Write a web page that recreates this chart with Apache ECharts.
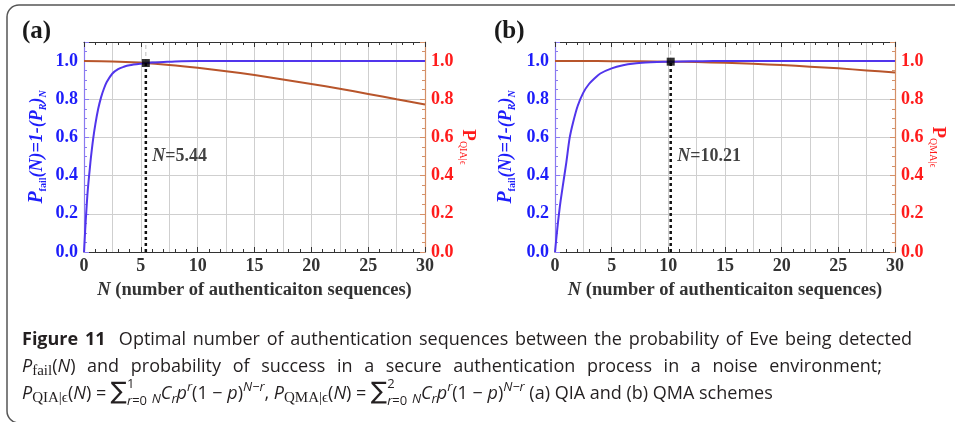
<!DOCTYPE html>
<html>
<head>
<meta charset="utf-8">
<script src="https://cdn.jsdelivr.net/npm/echarts@6/dist/echarts.min.js"></script>
<style>
  html, body { margin: 0; padding: 0; background: #fff; }
  #main { width: 955px; height: 422px; }
</style>
</head>
<body>
<div id="main"></div>
<script>
// values
// (a) QIA
var nFailA = [0, 0.1, 0.2, 0.3, 0.4, 0.5, 0.6, 0.8, 1, 1.25, 1.5, 1.75, 2, 2.5, 3, 3.5, 4, 5, 6, 7, 8, 10, 12, 30];
var pFailA = [0, 0.11, 0.21, 0.3, 0.37, 0.43, 0.49, 0.59, 0.67, 0.75, 0.81, 0.855, 0.89, 0.935, 0.958, 0.97, 0.978, 0.986, 0.992, 0.995, 0.998, 1, 1, 1];
var nQia = [0, 2.5, 5, 7.5, 10, 12.5, 15, 17.5, 20, 22.5, 25, 27.5, 30];
var pQia = [1, 0.998, 0.991, 0.98, 0.965, 0.947, 0.927, 0.904, 0.88, 0.855, 0.828, 0.8, 0.773];
var optA = [5.44, 0.99];
// (b) QMA
var nFailB = [0, 0.2, 0.35, 0.5, 0.85, 1, 1.3, 1.6, 2, 2.5, 3, 3.5, 4, 5, 6, 7, 8, 9, 10.21, 12, 14, 30];
var pFailB = [0, 0.12, 0.2, 0.27, 0.41, 0.47, 0.6, 0.68, 0.765, 0.835, 0.88, 0.91, 0.935, 0.962, 0.978, 0.987, 0.992, 0.995, 0.997, 0.999, 1, 1];
var nQma = [0, 2.5, 5, 7.5, 10, 12.5, 15, 17.5, 20, 22.5, 25, 27.5, 30];
var pQma = [1, 1, 0.9997, 0.999, 0.997, 0.995, 0.991, 0.986, 0.979, 0.971, 0.962, 0.951, 0.94];
var optB = [10.21, 0.997];
var labelY = 0.5;          // height of the "N=..." note
var xRange = [0, 30];
var yRange = [0, 1.1];
var panelNames = ['(a)', '(b)'];
var rightNames = ['QIA|\u03f5', 'QMA|\u03f5'];

var SERIF = '"Liberation Serif", "Times New Roman", serif';
var SANS = '"Open Sans", Lato, sans-serif';
var INK = '#231f20';
var BLUE = '#5135ec', BROWN = '#b8552b';
var LAXIS = '#8a7af0', RAXIS = '#d49068';
var LTXT = '#1d1dfa', RTXT = '#ff1c1c';
var GRID = '#cfcfcf';

function zip(xs, ys) {
    return xs.map(function (x, i) { return [x, ys[i]]; });
}
function fmtY(v) { return v > 1.05 ? '' : v.toFixed(1); }

var grids = [
    {left: 84, top: 42, width: 341, height: 210, outerBoundsMode: 'none'},
    {left: 555, top: 42, width: 340, height: 210, outerBoundsMode: 'none'}
];
var gapL = [36, 38], gapR = [26, 30];

var xAxes = [], yAxes = [], series = [];
[0, 1].forEach(function (g) {
    var tickX = {show: true, inside: true, length: 5, lineStyle: {color: '#333'}};
    var minorX = {show: true, splitNumber: 5, length: 3, lineStyle: {color: '#333'}};
    xAxes.push({
        gridIndex: g, type: 'value', min: xRange[0], max: xRange[1], interval: 5, position: 'bottom',
        axisLine: {onZero: false, lineStyle: {color: '#333', width: 1}},
        axisTick: tickX, minorTick: minorX, splitLine: {show: false},
        axisLabel: {color: '#333', fontFamily: SERIF, fontWeight: 'bold', fontSize: 18, margin: 5},
        name: '{i|N} (number of authenticaiton sequences)',
        nameLocation: 'middle', nameGap: 29,
        nameTextStyle: {
            color: '#333', fontFamily: SERIF, fontWeight: 'bold', fontSize: 18.5,
            rich: {i: {color: '#333', fontFamily: SERIF, fontWeight: 'bold', fontStyle: 'italic', fontSize: 18.5}}
        }
    });
    xAxes.push({
        gridIndex: g, type: 'value', min: xRange[0], max: xRange[1], interval: 5, position: 'top',
        axisLine: {onZero: false, lineStyle: {color: '#333', width: 1}},
        axisTick: tickX, minorTick: minorX, splitLine: {show: false}, axisLabel: {show: false}
    });
    xAxes.push({
        gridIndex: g, type: 'value', min: xRange[0], max: xRange[1], interval: 2.5, position: 'bottom',
        axisLine: {show: false, onZero: false}, axisTick: {show: false}, axisLabel: {show: false},
        splitLine: {show: true, lineStyle: {color: GRID, width: 1}}
    });
    yAxes.push({
        gridIndex: g, type: 'value', min: yRange[0], max: yRange[1], interval: 0.2, position: 'left',
        axisLine: {show: true, onZero: false, lineStyle: {color: LAXIS, width: 1.2}},
        axisTick: {show: true, inside: true, length: 5, lineStyle: {color: LAXIS}},
        minorTick: {show: true, splitNumber: 4, length: 3, lineStyle: {color: LAXIS}},
        splitLine: {show: true, lineStyle: {color: GRID, width: 1}},
        axisLabel: {color: LTXT, fontFamily: SERIF, fontWeight: 'bold', fontSize: 18, margin: 6, formatter: fmtY},
        name: '{p|P}{s|fail}{a|(N)=1-(P}{r|R}{a|)}{r|N}',
        nameLocation: 'middle', nameRotate: 90, nameGap: gapL[g],
        nameTextStyle: {
            color: LTXT,
            rich: {
                p: {color: LTXT, fontFamily: SERIF, fontWeight: 'bold', fontStyle: 'italic', fontSize: 20, lineHeight: 22},
                a: {color: LTXT, fontFamily: SERIF, fontWeight: 'bold', fontStyle: 'italic', fontSize: 18, lineHeight: 22},
                s: {color: LTXT, fontFamily: SERIF, fontWeight: 'bold', fontSize: 10, lineHeight: 11, verticalAlign: 'bottom'},
                r: {color: LTXT, fontFamily: SERIF, fontWeight: 'bold', fontStyle: 'italic', fontSize: 10, lineHeight: 11, verticalAlign: 'bottom'}
            }
        }
    });
    yAxes.push({
        gridIndex: g, type: 'value', min: yRange[0], max: yRange[1], interval: 0.2, position: 'right',
        axisLine: {show: true, onZero: false, lineStyle: {color: RAXIS, width: 1.2}},
        axisTick: {show: true, inside: true, length: 5, lineStyle: {color: RAXIS}},
        minorTick: {show: true, splitNumber: 4, length: 3, lineStyle: {color: RAXIS}},
        splitLine: {show: false},
        axisLabel: {color: RTXT, fontFamily: SERIF, fontWeight: 'bold', fontSize: 18, margin: 6, formatter: fmtY},
        name: '{p|P}{s|' + rightNames[g] + '}',
        nameLocation: 'middle', nameRotate: -90, nameGap: gapR[g],
        nameTextStyle: {
            color: RTXT,
            rich: {
                p: {color: RTXT, fontFamily: SERIF, fontWeight: 'bold', fontSize: 19, lineHeight: 21},
                s: {color: RTXT, fontFamily: SERIF, fontSize: 10, lineHeight: 11, verticalAlign: 'bottom'}
            }
        }
    });

    var fail = g === 0 ? zip(nFailA, pFailA) : zip(nFailB, pFailB);
    var succ = g === 0 ? zip(nQia, pQia) : zip(nQma, pQma);
    var opt = g === 0 ? optA : optB;
    var xi = g * 3, yi = g * 2;
    series.push({
        type: 'line', xAxisIndex: xi, yAxisIndex: yi + 1, data: succ, showSymbol: false,
        smooth: 0.3, lineStyle: {color: BROWN, width: 2}, z: 3, silent: true
    });
    series.push({
        type: 'line', xAxisIndex: xi, yAxisIndex: yi, data: fail, showSymbol: false,
        smooth: 0.3, lineStyle: {color: BLUE, width: 2}, z: 4, silent: true
    });
    // guide lines through the optimum
    series.push({
        type: 'line', xAxisIndex: xi, yAxisIndex: yi, data: [[opt[0], opt[1]], [opt[0], yRange[1]]],
        showSymbol: false, lineStyle: {color: '#bdbdbd', width: 1, type: [4, 3]}, z: 2, silent: true
    });
    series.push({
        type: 'line', xAxisIndex: xi, yAxisIndex: yi, data: [[opt[0], 0], [opt[0], opt[1]]],
        showSymbol: false, lineStyle: {color: '#111', width: 2.5, type: [3, 3]}, z: 5, silent: true
    });
    series.push({
        type: 'scatter', xAxisIndex: xi, yAxisIndex: yi, data: [opt], symbol: 'rect', symbolSize: 8,
        itemStyle: {color: '#000'}, z: 6, silent: true
    });
    series.push({
        type: 'scatter', xAxisIndex: xi, yAxisIndex: yi, data: [[opt[0], labelY]], symbolSize: 1,
        itemStyle: {color: 'rgba(0,0,0,0)'}, z: 6, silent: true,
        label: {
            show: true, position: 'right', distance: 6,
            formatter: '{i|N}{b|=' + opt[0].toFixed(2) + '}',
            rich: {
                i: {color: '#111', fontFamily: SERIF, fontWeight: 'bold', fontStyle: 'italic', fontSize: 18},
                b: {color: '#111', fontFamily: SERIF, fontWeight: 'bold', fontSize: 18}
            }
        }
    });
});

// caption laid out piece by piece, first two lines spread to the figure's line widths
var FONTS = {
    n: {size: 18, family: SANS},
    b: {size: 18, family: SANS, weight: 'bold'},
    i: {size: 18, family: SANS, style: 'italic'},
    ss: {size: 15, family: SERIF},
    sn: {size: 13, family: SANS},
    si: {size: 13, family: SANS, style: 'italic'},
    sum: {size: 24, family: '"DejaVu Sans", sans-serif'}
};
function fontStr(k) {
    var f = FONTS[k];
    return (f.style || 'normal') + ' ' + (f.weight || 'normal') + ' ' + f.size + 'px ' + f.family;
}
var mctx = document.createElement('canvas').getContext('2d');
function measure(t, k) { mctx.font = fontStr(k); return mctx.measureText(t).width; }
function textEl(t, k, x, base) {
    return {
        type: 'text', x: x, y: base - 0.3 * FONTS[k].size, silent: true,
        style: {text: t, font: fontStr(k), fill: INK, align: 'left', verticalAlign: 'middle',
                textAlign: 'left', textVerticalAlign: 'middle'}
    };
}
function natural(segs) {
    var w = 0, sp = 0;
    segs.forEach(function (s) {
        if (s.up) { w += Math.max(natural(s.up).w, natural(s.dn).w); }
        else { w += measure(s[0], s[1]); sp += s[0].split(' ').length - 1; }
    });
    return {w: w, sp: sp};
}
function layoutLine(segs, x0, base, out, target) {
    var nat = natural(segs);
    var extra = target && nat.sp ? (target - nat.w) / nat.sp : 0;
    var x = x0;
    segs.forEach(function (s) {
        if (s.up) {
            var w1 = layoutLine(s.up, x, base - 11, out);
            var w2 = layoutLine(s.dn, x, base + 6, out);
            x += Math.max(w1, w2);
        } else {
            var parts = s[0].split(' ');
            parts.forEach(function (p, j) {
                if (p) { out.push(textEl(p, s[1], x, base + (s[2] || 0))); x += measure(p, s[1]); }
                if (j < parts.length - 1) { x += measure(' ', s[1]) + extra; }
            });
        }
    });
    return x - x0;
}
function prob(sub, top) {
    return [
        ['P', 'i'], [sub, 'ss', 4], ['(', 'n'], ['N', 'i'], [') = ', 'n'], ['\u2211', 'sum', 1],
        {up: [[top, 'sn']], dn: [['r', 'si'], ['=0', 'sn']]},
        [' ', 'n'], ['N', 'si', 4], ['C', 'i'], ['r', 'si', 4], ['p', 'i'], ['r', 'si', -8],
        ['(1 \u2212 ', 'n'], ['p', 'i'], [')', 'n'], ['N\u2212r', 'si', -8]
    ];
}
var cap1 = [['Figure 11', 'b'], ['  Optimal number of authentication sequences between the probability of Eve being detected', 'n']];
var cap2 = [['P', 'i'], ['fail', 'ss', 4], ['(', 'n'], ['N', 'i'],
    [') and probability of success in a secure authentication process in a noise environment;', 'n']];
var cap3 = prob('QIA|\u03f5', '1').concat([[', ', 'n']], prob('QMA|\u03f5', '2'),
    [[' (a) QIA and (b) QMA schemes', 'n']]);

var graphics = [{
    type: 'rect', silent: true, z: 0,
    shape: {x: 7, y: 5, width: 1000, height: 418, r: 12},
    style: {fill: 'none', stroke: '#555', lineWidth: 1.5}
}];
[[22, panelNames[0]], [494, panelNames[1]]].forEach(function (p) {
    graphics.push({
        type: 'text', x: p[0], y: 32, silent: true,
        style: {text: p[1], font: 'bold 25px ' + SERIF, fill: '#1a1a1a', align: 'left', verticalAlign: 'middle',
                textAlign: 'left', textVerticalAlign: 'middle'}
    });
});
layoutLine(cap1, 22, 345, graphics, 890);
layoutLine(cap2, 22, 372, graphics, 860);
layoutLine(cap3, 22, 399, graphics);

var chart = echarts.init(document.getElementById('main'));
var option = {
    animation: false,
    backgroundColor: '#fff',
    grid: grids,
    xAxis: xAxes,
    yAxis: yAxes,
    series: series,
    graphic: graphics
};
chart.setOption(option);
</script>
</body>
</html>
